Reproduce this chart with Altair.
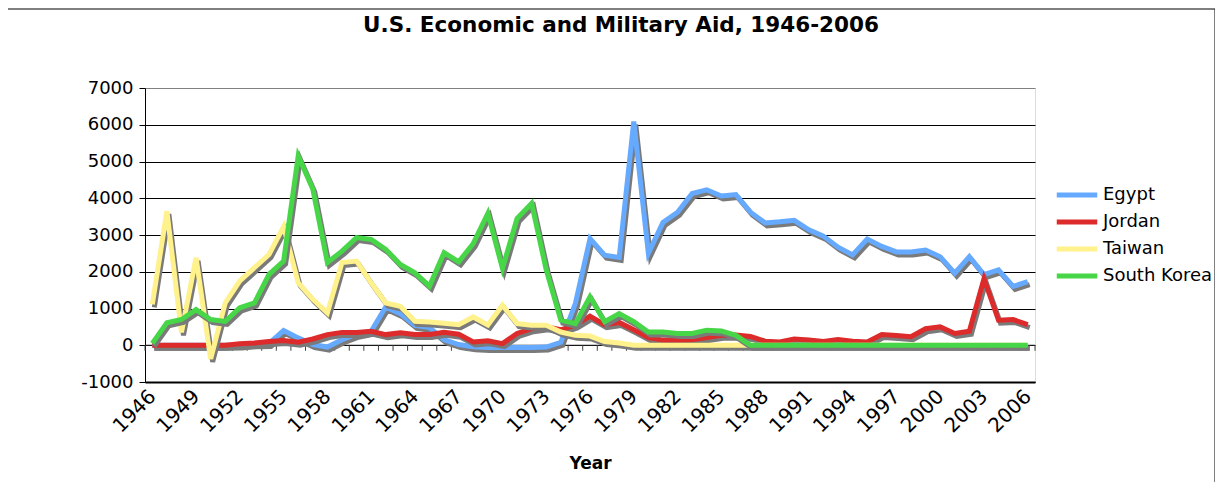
import altair as alt
import pandas as pd

years = list(range(1946, 2007))

egypt = [0, 0, 0, 0, 0, 0, 10, 40, 50, 400,
         200, 20, -50, 150, 300, 380, 1040, 860, 540, 480,
         150, 20, -40, -60, -60, -60, -60, -50, 80, 1140,
         2900, 2450, 2390, 6090, 2500, 3340, 3620, 4130, 4230, 4060,
         4100, 3620, 3330, 3360, 3400, 3140, 2970, 2670, 2460, 2890,
         2690, 2540, 2540, 2590, 2410, 1960, 2410, 1920, 2050, 1600,
         1730]
jordan = [0, 0, 0, 0, 0, 0, 40, 60, 100, 130,
          80, 170, 290, 350, 350, 380, 290, 340, 290, 290,
          350, 300, 90, 120, 45, 320, 450, 500, 420, 550,
          790, 560, 620, 420, 210, 140, 140, 150, 210, 270,
          280, 240, 110, 90, 170, 140, 100, 155, 110, 90,
          290, 265, 230, 450, 500, 320, 380, 1810, 680, 700,
          560]
taiwan = [1110, 3650, 350, 2380, -370, 1150, 1750, 2110, 2470, 3230,
          1700, 1250, 880, 2250, 2290, 1700, 1150, 1060, 650, 630,
          600, 560, 770, 550, 1090, 590, 545, 545, 360, 270,
          250, 100, 60, 0, 0, 0, 0, 0, 0, 0,
          0, 0, 0, 0, 0, 0, 0, 0, 0, 0,
          0, 0, 0, 0, 0, 0, 0, 0, 0, 0,
          0]
korea = [50, 610, 700, 970, 700, 650, 1020, 1150, 1930, 2290,
         5150, 4250, 2250, 2560, 2930, 2880, 2610, 2200, 1970, 1610,
         2520, 2270, 2770, 3590, 2090, 3450, 3860, 2050, 680, 590,
         1320, 640, 860, 640, 360, 360, 320, 320, 410, 390,
         270, 0, 0, 0, 0, 0, 0, 0, 0, 0,
         0, 0, 0, 0, 0, 0, 0, 0, 0, 0,
         0]

countries = ["Egypt", "Jordan", "Taiwan", "South Korea"]
colors = ["#66aaff", "#dd2a2a", "#fff18c", "#47d647"]
series = {"Egypt": egypt, "Jordan": jordan, "Taiwan": taiwan, "South Korea": korea}
label_years = list(range(1946, 2007, 3))
y_ticks = list(range(-1000, 8000, 1000))

rows = []
for c in countries:
    for yr, v in zip(years, series[c]):
        rows.append({"Year": yr, "Aid": v, "Country": c})
df = pd.DataFrame(rows)

tick_df = pd.DataFrame({"Year": [y - 0.5 for y in years] + [years[-1] + 0.5], "Aid": 0})

FONT = "DejaVu Sans"

xscale = alt.Scale(domain=[1945.5, 2006.5], nice=False, zero=False)
yscale = alt.Scale(domain=[-1000, 7000], nice=False)

x_axis = alt.Axis(
    values=label_years, labelExpr="'' + datum.value", labelAngle=-45, labelAlign="right",
    labelBaseline="middle", labelPadding=11, ticks=False, domain=True,
    domainColor="black", domainWidth=2, grid=False, labelFontSize=20,
    labelFont=FONT, labelColor="black", title="Year", titleFont=FONT,
    titleFontSize=17, titleFontWeight="bold", titleColor="black",
    titleY=81, titleBaseline="middle", labelFlush=False, labelOverlap=False,
)
y_axis = alt.Axis(
    values=y_ticks, title=None, grid=True, labelExpr="'' + datum.value",
    gridColor={"condition": {"test": "datum.value == 7000", "value": "#808080"}, "value": "black"},
    gridWidth=1, tickSize=6, tickColor="black", domainColor="black",
    labelFontSize=18, labelFont=FONT, labelColor="black", labelPadding=6,
    labelFlush=False, labelOverlap=False, labelSeparation=0,
)
x_enc = alt.X("Year:Q", scale=xscale, axis=x_axis)
y_enc = alt.Y("Aid:Q", scale=yscale, axis=y_axis)

color_scale = alt.Scale(domain=countries, range=colors)

layers = []

zero_rule = alt.Chart(pd.DataFrame({"Aid": [0]})).mark_rule(color="#202020", strokeWidth=1).encode(
    y=y_enc
)
ticks = alt.Chart(tick_df).mark_rule(color="#404040", strokeWidth=1).encode(
    x=x_enc,
    y=y_enc,
    y2=alt.datum(-150),
)
layers += [zero_rule, ticks]

for c in countries:
    sub = alt.Chart(df).transform_filter(alt.datum.Country == c)
    shadow = sub.mark_line(color="#7a7a7a", strokeWidth=5, xOffset=2, yOffset=3).encode(
        x=x_enc, y=y_enc
    )
    line = sub.mark_line(strokeWidth=5).encode(
        x=x_enc, y=y_enc,
        color=alt.Color("Country:N", scale=color_scale, title=None,
                        legend=alt.Legend(orient="none", legendX=916, legendY=91,
                                          symbolType="M-1.5,0H1.5", symbolSize=729,
                                          symbolStrokeWidth=5, labelOffset=10,
                                          labelFontSize=18, labelFont=FONT,
                                          labelColor="black", rowPadding=1)),
    )
    layers += [shadow, line]

frame_top = alt.Chart(pd.DataFrame({"a": [0]})).mark_rule(color="black", strokeWidth=1, clip=False).encode(
    x=alt.value(-137), x2=alt.value(1070), y=alt.value(-79)
)
frame_right = alt.Chart(pd.DataFrame({"a": [0]})).mark_rule(color="black", strokeWidth=1, clip=False).encode(
    x=alt.value(1070), y=alt.value(-79), y2=alt.value(396)
)
layers += [frame_top, frame_right]

chart = alt.layer(*layers).properties(
    width=890, height=294,
    autosize=alt.AutoSizeParams(type="none"),
    padding={"left": 137, "top": 80, "right": 180, "bottom": 100},
    title=alt.Title("U.S. Economic and Military Aid, 1946-2006", font=FONT, fontSize=21.5,
                    fontWeight="bold", color="black", anchor="middle", frame="group",
                    dx=31, dy=28, offset=0),
).configure_view(fill="#cccccc", stroke=None).configure(background="white")

chart.save("out.html", embed_options={"renderer": "svg", "actions": False})
